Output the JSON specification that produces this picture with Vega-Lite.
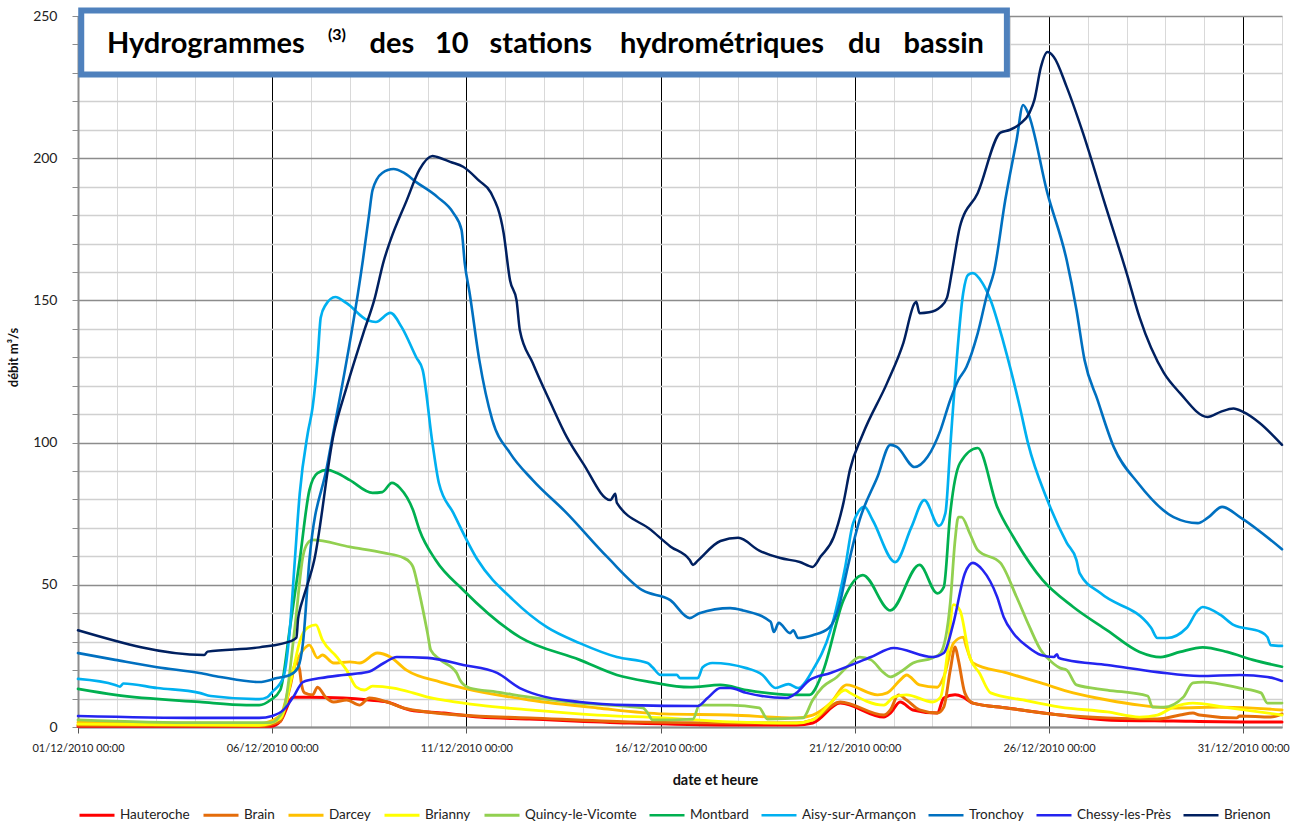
{
  "$schema": "https://vega.github.io/schema/vega-lite/v6.json",
  "autosize": {"type": "none"},
  "width": 1204,
  "height": 711,
  "padding": {"left": 78, "top": 16, "right": 20, "bottom": 96},
  "background": "white",
  "config": {
    "view": {"stroke": null},
    "font": "Lato",
    "axis": {"labelFont": "Lato", "titleFont": "Lato", "labelColor": "#222222", "titleColor": "#111111"},
    "legend": {"labelFont": "Lato"}
  },
  "resolve": {"axis": {"y": "independent"}},
  "layer": [
    {
      "data": {"values": [
        {"s":"Hauteroche","t":"2010-12-01 00:00","q":0.3},{"s":"Hauteroche","t":"2010-12-05 23:00","q":0.3},{"s":"Hauteroche","t":"2010-12-06 05:00","q":2},{"s":"Hauteroche","t":"2010-12-06 13:00","q":10.5},{"s":"Hauteroche","t":"2010-12-06 23:00","q":10.5},{"s":"Hauteroche","t":"2010-12-07 20:00","q":10.2},{"s":"Hauteroche","t":"2010-12-08 12:00","q":9.5},{"s":"Hauteroche","t":"2010-12-08 23:00","q":8.8},{"s":"Hauteroche","t":"2010-12-09 13:00","q":6},{"s":"Hauteroche","t":"2010-12-10 10:00","q":4.9},{"s":"Hauteroche","t":"2010-12-11 08:00","q":3.5},{"s":"Hauteroche","t":"2010-12-12 15:00","q":2.8},{"s":"Hauteroche","t":"2010-12-15 05:00","q":1.4},{"s":"Hauteroche","t":"2010-12-17 19:00","q":0.7},{"s":"Hauteroche","t":"2010-12-19 12:00","q":0.7},{"s":"Hauteroche","t":"2010-12-19 22:00","q":1.4},{"s":"Hauteroche","t":"2010-12-20 15:00","q":8.4},{"s":"Hauteroche","t":"2010-12-21 18:00","q":3.5},{"s":"Hauteroche","t":"2010-12-21 22:00","q":4.9},{"s":"Hauteroche","t":"2010-12-22 04:00","q":8.8},{"s":"Hauteroche","t":"2010-12-22 12:00","q":6},{"s":"Hauteroche","t":"2010-12-23 03:00","q":4.9},{"s":"Hauteroche","t":"2010-12-23 07:00","q":10.2},{"s":"Hauteroche","t":"2010-12-23 14:00","q":11.3},{"s":"Hauteroche","t":"2010-12-23 19:00","q":10.5},{"s":"Hauteroche","t":"2010-12-24 01:00","q":8.4},{"s":"Hauteroche","t":"2010-12-24 22:00","q":6.7},{"s":"Hauteroche","t":"2010-12-26 07:00","q":4.2},{"s":"Hauteroche","t":"2010-12-27 12:00","q":2.5},{"s":"Hauteroche","t":"2010-12-29 05:00","q":2.1},{"s":"Hauteroche","t":"2010-12-30 22:00","q":1.8},{"s":"Hauteroche","t":"2011-01-01 00:00","q":1.8},

        {"s":"Brain","t":"2010-12-01 00:00","q":0.6},{"s":"Brain","t":"2010-12-05 16:00","q":0.4},{"s":"Brain","t":"2010-12-06 05:00","q":2},{"s":"Brain","t":"2010-12-06 11:00","q":14},{"s":"Brain","t":"2010-12-06 15:00","q":23},{"s":"Brain","t":"2010-12-06 17:00","q":20},{"s":"Brain","t":"2010-12-06 18:00","q":15.5},{"s":"Brain","t":"2010-12-06 20:00","q":12},{"s":"Brain","t":"2010-12-07 01:00","q":11.3},{"s":"Brain","t":"2010-12-07 04:00","q":14},{"s":"Brain","t":"2010-12-07 09:00","q":10.5},{"s":"Brain","t":"2010-12-07 14:00","q":8.8},{"s":"Brain","t":"2010-12-07 22:00","q":9.5},{"s":"Brain","t":"2010-12-08 06:00","q":7.7},{"s":"Brain","t":"2010-12-08 12:00","q":10.2},{"s":"Brain","t":"2010-12-08 23:00","q":8.8},{"s":"Brain","t":"2010-12-09 09:00","q":6.7},{"s":"Brain","t":"2010-12-10 00:00","q":5.3},{"s":"Brain","t":"2010-12-10 20:00","q":4.2},{"s":"Brain","t":"2010-12-12 15:00","q":3.2},{"s":"Brain","t":"2010-12-15 05:00","q":1.8},{"s":"Brain","t":"2010-12-17 19:00","q":1.4},{"s":"Brain","t":"2010-12-19 12:00","q":1.4},{"s":"Brain","t":"2010-12-19 22:00","q":2.5},{"s":"Brain","t":"2010-12-20 15:00","q":8.8},{"s":"Brain","t":"2010-12-21 18:00","q":4.2},{"s":"Brain","t":"2010-12-21 22:00","q":6},{"s":"Brain","t":"2010-12-22 03:00","q":11.3},{"s":"Brain","t":"2010-12-22 08:00","q":9.5},{"s":"Brain","t":"2010-12-22 16:00","q":6},{"s":"Brain","t":"2010-12-23 03:00","q":4.9},{"s":"Brain","t":"2010-12-23 07:00","q":7},{"s":"Brain","t":"2010-12-23 11:00","q":20},{"s":"Brain","t":"2010-12-23 14:00","q":28.1},{"s":"Brain","t":"2010-12-23 16:00","q":23.6},{"s":"Brain","t":"2010-12-23 20:00","q":12},{"s":"Brain","t":"2010-12-24 01:00","q":8.4},{"s":"Brain","t":"2010-12-24 22:00","q":6.7},{"s":"Brain","t":"2010-12-26 07:00","q":4.2},{"s":"Brain","t":"2010-12-27 12:00","q":3.2},{"s":"Brain","t":"2010-12-28 19:00","q":2.8},{"s":"Brain","t":"2010-12-29 09:00","q":4.2},{"s":"Brain","t":"2010-12-29 17:00","q":4.9},{"s":"Brain","t":"2010-12-29 21:00","q":4.2},{"s":"Brain","t":"2010-12-30 20:00","q":3.2},{"s":"Brain","t":"2010-12-30 22:00","q":3.9},{"s":"Brain","t":"2010-12-31 17:00","q":3.5},{"s":"Brain","t":"2011-01-01 00:00","q":4.6},

        {"s":"Darcey","t":"2010-12-01 00:00","q":1.6},{"s":"Darcey","t":"2010-12-05 16:00","q":1.2},{"s":"Darcey","t":"2010-12-06 05:00","q":4},{"s":"Darcey","t":"2010-12-06 13:00","q":20},{"s":"Darcey","t":"2010-12-06 19:00","q":27},{"s":"Darcey","t":"2010-12-06 23:00","q":28.8},{"s":"Darcey","t":"2010-12-07 04:00","q":24.3},{"s":"Darcey","t":"2010-12-07 07:00","q":25.3},{"s":"Darcey","t":"2010-12-07 14:00","q":22.5},{"s":"Darcey","t":"2010-12-08 00:00","q":22.9},{"s":"Darcey","t":"2010-12-08 06:00","q":22.5},{"s":"Darcey","t":"2010-12-08 17:00","q":26},{"s":"Darcey","t":"2010-12-09 01:00","q":24.6},{"s":"Darcey","t":"2010-12-09 11:00","q":20},{"s":"Darcey","t":"2010-12-10 08:00","q":15.8},{"s":"Darcey","t":"2010-12-10 22:00","q":13.7},{"s":"Darcey","t":"2010-12-12 15:00","q":9.5},{"s":"Darcey","t":"2010-12-14 09:00","q":6.7},{"s":"Darcey","t":"2010-12-16 02:00","q":4.6},{"s":"Darcey","t":"2010-12-17 19:00","q":4.2},{"s":"Darcey","t":"2010-12-19 12:00","q":3.2},{"s":"Darcey","t":"2010-12-19 22:00","q":4.2},{"s":"Darcey","t":"2010-12-20 09:00","q":8.4},{"s":"Darcey","t":"2010-12-20 19:00","q":14.8},{"s":"Darcey","t":"2010-12-21 14:00","q":11.3},{"s":"Darcey","t":"2010-12-21 20:00","q":12},{"s":"Darcey","t":"2010-12-22 04:00","q":16.5},{"s":"Darcey","t":"2010-12-22 08:00","q":18.3},{"s":"Darcey","t":"2010-12-22 16:00","q":14.8},{"s":"Darcey","t":"2010-12-23 03:00","q":14},{"s":"Darcey","t":"2010-12-23 07:00","q":17.6},{"s":"Darcey","t":"2010-12-23 13:00","q":29.5},{"s":"Darcey","t":"2010-12-23 19:00","q":31.6},{"s":"Darcey","t":"2010-12-23 21:00","q":28.1},{"s":"Darcey","t":"2010-12-24 01:00","q":22.5},{"s":"Darcey","t":"2010-12-24 22:00","q":19},{"s":"Darcey","t":"2010-12-25 19:00","q":15.5},{"s":"Darcey","t":"2010-12-26 15:00","q":12},{"s":"Darcey","t":"2010-12-27 12:00","q":9.5},{"s":"Darcey","t":"2010-12-28 08:00","q":7.7},{"s":"Darcey","t":"2010-12-29 05:00","q":6.7},{"s":"Darcey","t":"2010-12-30 12:00","q":7},{"s":"Darcey","t":"2011-01-01 00:00","q":6},

        {"s":"Brianny","t":"2010-12-01 00:00","q":1},{"s":"Brianny","t":"2010-12-05 16:00","q":0.6},{"s":"Brianny","t":"2010-12-06 05:00","q":3},{"s":"Brianny","t":"2010-12-06 13:00","q":20},{"s":"Brianny","t":"2010-12-06 17:00","q":30},{"s":"Brianny","t":"2010-12-06 22:00","q":35},{"s":"Brianny","t":"2010-12-07 03:00","q":35.9},{"s":"Brianny","t":"2010-12-07 07:00","q":30.6},{"s":"Brianny","t":"2010-12-07 16:00","q":24.6},{"s":"Brianny","t":"2010-12-07 22:00","q":20},{"s":"Brianny","t":"2010-12-08 04:00","q":14},{"s":"Brianny","t":"2010-12-08 09:00","q":13},{"s":"Brianny","t":"2010-12-08 14:00","q":14.4},{"s":"Brianny","t":"2010-12-09 03:00","q":13.7},{"s":"Brianny","t":"2010-12-09 15:00","q":12},{"s":"Brianny","t":"2010-12-10 00:00","q":10.5},{"s":"Brianny","t":"2010-12-10 12:00","q":9.3},{"s":"Brianny","t":"2010-12-11 08:00","q":7.7},{"s":"Brianny","t":"2010-12-12 15:00","q":6},{"s":"Brianny","t":"2010-12-14 09:00","q":4.2},{"s":"Brianny","t":"2010-12-16 02:00","q":3.2},{"s":"Brianny","t":"2010-12-17 19:00","q":1.8},{"s":"Brianny","t":"2010-12-19 12:00","q":1.4},{"s":"Brianny","t":"2010-12-19 22:00","q":2.5},{"s":"Brianny","t":"2010-12-20 09:00","q":8.4},{"s":"Brianny","t":"2010-12-20 18:00","q":13},{"s":"Brianny","t":"2010-12-20 21:00","q":12},{"s":"Brianny","t":"2010-12-21 18:00","q":7.7},{"s":"Brianny","t":"2010-12-22 00:00","q":10.5},{"s":"Brianny","t":"2010-12-22 08:00","q":11.3},{"s":"Brianny","t":"2010-12-23 00:00","q":8.8},{"s":"Brianny","t":"2010-12-23 05:00","q":10.5},{"s":"Brianny","t":"2010-12-23 09:00","q":24.6},{"s":"Brianny","t":"2010-12-23 13:00","q":43},{"s":"Brianny","t":"2010-12-23 17:00","q":41},{"s":"Brianny","t":"2010-12-23 23:00","q":24.6},{"s":"Brianny","t":"2010-12-24 05:00","q":19},{"s":"Brianny","t":"2010-12-24 12:00","q":12},{"s":"Brianny","t":"2010-12-25 08:00","q":9.5},{"s":"Brianny","t":"2010-12-26 07:00","q":7},{"s":"Brianny","t":"2010-12-27 12:00","q":5.3},{"s":"Brianny","t":"2010-12-28 08:00","q":3.5},{"s":"Brianny","t":"2010-12-28 19:00","q":4.2},{"s":"Brianny","t":"2010-12-29 05:00","q":7},{"s":"Brianny","t":"2010-12-29 17:00","q":8.4},{"s":"Brianny","t":"2010-12-30 12:00","q":7},{"s":"Brianny","t":"2011-01-01 00:00","q":4.2},

        {"s":"Quincy-le-Vicomte","t":"2010-12-01 00:00","q":2.5},{"s":"Quincy-le-Vicomte","t":"2010-12-04 03:00","q":1.5},{"s":"Quincy-le-Vicomte","t":"2010-12-05 23:00","q":1.5},{"s":"Quincy-le-Vicomte","t":"2010-12-06 07:00","q":6},{"s":"Quincy-le-Vicomte","t":"2010-12-06 14:00","q":35},{"s":"Quincy-le-Vicomte","t":"2010-12-06 19:00","q":60},{"s":"Quincy-le-Vicomte","t":"2010-12-06 22:00","q":64.7},{"s":"Quincy-le-Vicomte","t":"2010-12-07 01:00","q":65.8},{"s":"Quincy-le-Vicomte","t":"2010-12-08 00:00","q":63.3},{"s":"Quincy-le-Vicomte","t":"2010-12-08 21:00","q":61.2},{"s":"Quincy-le-Vicomte","t":"2010-12-09 09:00","q":59.5},{"s":"Quincy-le-Vicomte","t":"2010-12-09 13:00","q":58},{"s":"Quincy-le-Vicomte","t":"2010-12-09 15:00","q":56.3},{"s":"Quincy-le-Vicomte","t":"2010-12-09 19:00","q":47},{"s":"Quincy-le-Vicomte","t":"2010-12-10 00:00","q":33},{"s":"Quincy-le-Vicomte","t":"2010-12-10 02:00","q":27},{"s":"Quincy-le-Vicomte","t":"2010-12-10 08:00","q":23.6},{"s":"Quincy-le-Vicomte","t":"2010-12-10 18:00","q":19},{"s":"Quincy-le-Vicomte","t":"2010-12-10 20:00","q":16.5},{"s":"Quincy-le-Vicomte","t":"2010-12-11 02:00","q":13.7},{"s":"Quincy-le-Vicomte","t":"2010-12-11 19:00","q":12.3},{"s":"Quincy-le-Vicomte","t":"2010-12-12 15:00","q":10.5},{"s":"Quincy-le-Vicomte","t":"2010-12-13 22:00","q":8.4},{"s":"Quincy-le-Vicomte","t":"2010-12-15 13:00","q":6.7},{"s":"Quincy-le-Vicomte","t":"2010-12-15 16:00","q":5},{"s":"Quincy-le-Vicomte","t":"2010-12-15 19:00","q":2.5},{"s":"Quincy-le-Vicomte","t":"2010-12-16 20:00","q":2.8},{"s":"Quincy-le-Vicomte","t":"2010-12-17 00:00","q":7.7},{"s":"Quincy-le-Vicomte","t":"2010-12-17 19:00","q":7.7},{"s":"Quincy-le-Vicomte","t":"2010-12-18 13:00","q":6.7},{"s":"Quincy-le-Vicomte","t":"2010-12-18 18:00","q":2.8},{"s":"Quincy-le-Vicomte","t":"2010-12-19 16:00","q":3.2},{"s":"Quincy-le-Vicomte","t":"2010-12-19 22:00","q":9.5},{"s":"Quincy-le-Vicomte","t":"2010-12-20 04:00","q":14},{"s":"Quincy-le-Vicomte","t":"2010-12-20 13:00","q":17.6},{"s":"Quincy-le-Vicomte","t":"2010-12-20 19:00","q":21},{"s":"Quincy-le-Vicomte","t":"2010-12-21 03:00","q":24.6},{"s":"Quincy-le-Vicomte","t":"2010-12-21 10:00","q":23.6},{"s":"Quincy-le-Vicomte","t":"2010-12-21 18:00","q":19},{"s":"Quincy-le-Vicomte","t":"2010-12-21 22:00","q":17.6},{"s":"Quincy-le-Vicomte","t":"2010-12-22 04:00","q":19.3},{"s":"Quincy-le-Vicomte","t":"2010-12-22 12:00","q":22.5},{"s":"Quincy-le-Vicomte","t":"2010-12-23 00:00","q":24.3},{"s":"Quincy-le-Vicomte","t":"2010-12-23 05:00","q":26},{"s":"Quincy-le-Vicomte","t":"2010-12-23 11:00","q":43.6},{"s":"Quincy-le-Vicomte","t":"2010-12-23 14:00","q":65.8},{"s":"Quincy-le-Vicomte","t":"2010-12-23 16:00","q":73.8},{"s":"Quincy-le-Vicomte","t":"2010-12-23 18:00","q":73.8},{"s":"Quincy-le-Vicomte","t":"2010-12-23 23:00","q":68.2},{"s":"Quincy-le-Vicomte","t":"2010-12-24 04:00","q":62.2},{"s":"Quincy-le-Vicomte","t":"2010-12-24 18:00","q":57.7},{"s":"Quincy-le-Vicomte","t":"2010-12-25 04:00","q":45.7},{"s":"Quincy-le-Vicomte","t":"2010-12-25 12:00","q":35.2},{"s":"Quincy-le-Vicomte","t":"2010-12-25 19:00","q":27},{"s":"Quincy-le-Vicomte","t":"2010-12-25 23:00","q":24.3},{"s":"Quincy-le-Vicomte","t":"2010-12-26 07:00","q":20.7},{"s":"Quincy-le-Vicomte","t":"2010-12-26 11:00","q":20},{"s":"Quincy-le-Vicomte","t":"2010-12-26 17:00","q":14.8},{"s":"Quincy-le-Vicomte","t":"2010-12-27 12:00","q":13},{"s":"Quincy-le-Vicomte","t":"2010-12-28 13:00","q":10.9},{"s":"Quincy-le-Vicomte","t":"2010-12-28 16:00","q":7},{"s":"Quincy-le-Vicomte","t":"2010-12-28 23:00","q":7},{"s":"Quincy-le-Vicomte","t":"2010-12-29 11:00","q":10.5},{"s":"Quincy-le-Vicomte","t":"2010-12-29 17:00","q":15.5},{"s":"Quincy-le-Vicomte","t":"2010-12-29 23:00","q":15.8},{"s":"Quincy-le-Vicomte","t":"2010-12-30 22:00","q":13.7},{"s":"Quincy-le-Vicomte","t":"2010-12-31 11:00","q":12},{"s":"Quincy-le-Vicomte","t":"2010-12-31 15:00","q":8.4},{"s":"Quincy-le-Vicomte","t":"2011-01-01 00:00","q":8.4},

        {"s":"Montbard","t":"2010-12-01 00:00","q":13.4},{"s":"Montbard","t":"2010-12-01 23:00","q":11.3},{"s":"Montbard","t":"2010-12-04 03:00","q":8.8},{"s":"Montbard","t":"2010-12-05 08:00","q":7.7},{"s":"Montbard","t":"2010-12-05 16:00","q":7.7},{"s":"Montbard","t":"2010-12-05 23:00","q":9.5},{"s":"Montbard","t":"2010-12-06 05:00","q":13},{"s":"Montbard","t":"2010-12-06 11:00","q":35},{"s":"Montbard","t":"2010-12-06 17:00","q":58.7},{"s":"Montbard","t":"2010-12-06 23:00","q":83.3},{"s":"Montbard","t":"2010-12-07 04:00","q":89.3},{"s":"Montbard","t":"2010-12-07 10:00","q":90.4},{"s":"Montbard","t":"2010-12-07 16:00","q":89.3},{"s":"Montbard","t":"2010-12-08 00:00","q":86.8},{"s":"Montbard","t":"2010-12-08 14:00","q":82.3},{"s":"Montbard","t":"2010-12-08 20:00","q":82.6},{"s":"Montbard","t":"2010-12-09 02:00","q":85.8},{"s":"Montbard","t":"2010-12-09 07:00","q":84},{"s":"Montbard","t":"2010-12-09 15:00","q":76.3},{"s":"Montbard","t":"2010-12-09 19:00","q":69.3},{"s":"Montbard","t":"2010-12-10 05:00","q":58.7},{"s":"Montbard","t":"2010-12-10 22:00","q":48.2},{"s":"Montbard","t":"2010-12-12 09:00","q":31.6},{"s":"Montbard","t":"2010-12-13 22:00","q":23.6},{"s":"Montbard","t":"2010-12-14 21:00","q":18.3},{"s":"Montbard","t":"2010-12-15 18:00","q":15.8},{"s":"Montbard","t":"2010-12-16 18:00","q":14},{"s":"Montbard","t":"2010-12-17 13:00","q":14.8},{"s":"Montbard","t":"2010-12-18 05:00","q":13},{"s":"Montbard","t":"2010-12-19 08:00","q":11.3},{"s":"Montbard","t":"2010-12-19 20:00","q":11.3},{"s":"Montbard","t":"2010-12-20 04:00","q":19},{"s":"Montbard","t":"2010-12-20 17:00","q":44.6},{"s":"Montbard","t":"2010-12-21 05:00","q":53.4},{"s":"Montbard","t":"2010-12-21 22:00","q":41},{"s":"Montbard","t":"2010-12-22 16:00","q":57},{"s":"Montbard","t":"2010-12-23 03:00","q":47},{"s":"Montbard","t":"2010-12-23 07:00","q":49.2},{"s":"Montbard","t":"2010-12-23 11:00","q":75.2},{"s":"Montbard","t":"2010-12-23 17:00","q":92.8},{"s":"Montbard","t":"2010-12-24 04:00","q":98.1},{"s":"Montbard","t":"2010-12-24 16:00","q":77.4},{"s":"Montbard","t":"2010-12-25 02:00","q":66.8},{"s":"Montbard","t":"2010-12-25 20:00","q":51.7},{"s":"Montbard","t":"2010-12-26 15:00","q":42.2},{"s":"Montbard","t":"2010-12-27 12:00","q":34},{"s":"Montbard","t":"2010-12-28 08:00","q":26.4},{"s":"Montbard","t":"2010-12-28 21:00","q":24.6},{"s":"Montbard","t":"2010-12-29 09:00","q":26.4},{"s":"Montbard","t":"2010-12-29 23:00","q":28},{"s":"Montbard","t":"2010-12-30 14:00","q":26.4},{"s":"Montbard","t":"2010-12-31 06:00","q":23.6},{"s":"Montbard","t":"2011-01-01 00:00","q":21.2},

        {"s":"Aisy-sur-Armançon","t":"2010-12-01 00:00","q":16.9},{"s":"Aisy-sur-Armançon","t":"2010-12-01 23:00","q":14.8},{"s":"Aisy-sur-Armançon","t":"2010-12-02 02:00","q":14.2},{"s":"Aisy-sur-Armançon","t":"2010-12-02 04:00","q":15.3},{"s":"Aisy-sur-Armançon","t":"2010-12-03 01:00","q":13.7},{"s":"Aisy-sur-Armançon","t":"2010-12-04 03:00","q":12},{"s":"Aisy-sur-Armançon","t":"2010-12-04 10:00","q":10.9},{"s":"Aisy-sur-Armançon","t":"2010-12-05 16:00","q":9.8},{"s":"Aisy-sur-Armançon","t":"2010-12-05 21:00","q":10.5},{"s":"Aisy-sur-Armançon","t":"2010-12-06 00:00","q":12.3},{"s":"Aisy-sur-Armançon","t":"2010-12-06 07:00","q":17.6},{"s":"Aisy-sur-Armançon","t":"2010-12-06 11:00","q":35},{"s":"Aisy-sur-Armançon","t":"2010-12-06 14:00","q":58.7},{"s":"Aisy-sur-Armançon","t":"2010-12-06 17:00","q":82},{"s":"Aisy-sur-Armançon","t":"2010-12-06 22:00","q":103.4},{"s":"Aisy-sur-Armançon","t":"2010-12-07 01:00","q":112.5},{"s":"Aisy-sur-Armançon","t":"2010-12-07 04:00","q":129},{"s":"Aisy-sur-Armançon","t":"2010-12-07 06:00","q":144},{"s":"Aisy-sur-Armançon","t":"2010-12-07 09:00","q":148.4},{"s":"Aisy-sur-Armançon","t":"2010-12-07 15:00","q":151.2},{"s":"Aisy-sur-Armançon","t":"2010-12-07 22:00","q":149},{"s":"Aisy-sur-Armançon","t":"2010-12-08 11:00","q":143},{"s":"Aisy-sur-Armançon","t":"2010-12-08 16:00","q":142.4},{"s":"Aisy-sur-Armançon","t":"2010-12-09 01:00","q":145.6},{"s":"Aisy-sur-Armançon","t":"2010-12-09 08:00","q":140.6},{"s":"Aisy-sur-Armançon","t":"2010-12-09 17:00","q":130},{"s":"Aisy-sur-Armançon","t":"2010-12-09 21:00","q":125.5},{"s":"Aisy-sur-Armançon","t":"2010-12-10 03:00","q":99.9},{"s":"Aisy-sur-Armançon","t":"2010-12-10 07:00","q":85.8},{"s":"Aisy-sur-Armançon","t":"2010-12-10 16:00","q":75.2},{"s":"Aisy-sur-Armançon","t":"2010-12-11 07:00","q":58.7},{"s":"Aisy-sur-Armançon","t":"2010-12-12 05:00","q":44.6},{"s":"Aisy-sur-Armançon","t":"2010-12-13 02:00","q":35},{"s":"Aisy-sur-Armançon","t":"2010-12-13 22:00","q":29.5},{"s":"Aisy-sur-Armançon","t":"2010-12-14 21:00","q":24.6},{"s":"Aisy-sur-Armançon","t":"2010-12-15 16:00","q":22.5},{"s":"Aisy-sur-Armançon","t":"2010-12-15 19:00","q":21},{"s":"Aisy-sur-Armançon","t":"2010-12-16 00:00","q":18.3},{"s":"Aisy-sur-Armançon","t":"2010-12-16 10:00","q":18.3},{"s":"Aisy-sur-Armançon","t":"2010-12-16 12:00","q":17.2},{"s":"Aisy-sur-Armançon","t":"2010-12-16 23:00","q":17.2},{"s":"Aisy-sur-Armançon","t":"2010-12-17 02:00","q":21},{"s":"Aisy-sur-Armançon","t":"2010-12-17 08:00","q":22.5},{"s":"Aisy-sur-Armançon","t":"2010-12-18 05:00","q":20.7},{"s":"Aisy-sur-Armançon","t":"2010-12-18 15:00","q":18.3},{"s":"Aisy-sur-Armançon","t":"2010-12-18 23:00","q":13.7},{"s":"Aisy-sur-Armançon","t":"2010-12-19 07:00","q":15.1},{"s":"Aisy-sur-Armançon","t":"2010-12-19 13:00","q":13.7},{"s":"Aisy-sur-Armançon","t":"2010-12-19 22:00","q":20},{"s":"Aisy-sur-Armançon","t":"2010-12-20 09:00","q":34},{"s":"Aisy-sur-Armançon","t":"2010-12-20 18:00","q":56},{"s":"Aisy-sur-Armançon","t":"2010-12-20 23:00","q":71.7},{"s":"Aisy-sur-Armançon","t":"2010-12-21 06:00","q":77.4},{"s":"Aisy-sur-Armançon","t":"2010-12-21 11:00","q":72.8},{"s":"Aisy-sur-Armançon","t":"2010-12-22 01:00","q":58},{"s":"Aisy-sur-Armançon","t":"2010-12-22 11:00","q":70.3},{"s":"Aisy-sur-Armançon","t":"2010-12-22 19:00","q":79.8},{"s":"Aisy-sur-Armançon","t":"2010-12-23 04:00","q":70.7},{"s":"Aisy-sur-Armançon","t":"2010-12-23 08:00","q":75.2},{"s":"Aisy-sur-Armançon","t":"2010-12-23 11:00","q":98.5},{"s":"Aisy-sur-Armançon","t":"2010-12-23 14:00","q":122},{"s":"Aisy-sur-Armançon","t":"2010-12-23 19:00","q":152.6},{"s":"Aisy-sur-Armançon","t":"2010-12-23 22:00","q":159},{"s":"Aisy-sur-Armançon","t":"2010-12-24 01:00","q":159.6},{"s":"Aisy-sur-Armançon","t":"2010-12-24 07:00","q":156},{"s":"Aisy-sur-Armançon","t":"2010-12-24 12:00","q":150},{"s":"Aisy-sur-Armançon","t":"2010-12-24 20:00","q":135},{"s":"Aisy-sur-Armançon","t":"2010-12-25 06:00","q":112.5},{"s":"Aisy-sur-Armançon","t":"2010-12-25 11:00","q":99.9},{"s":"Aisy-sur-Armançon","t":"2010-12-25 23:00","q":79.8},{"s":"Aisy-sur-Armançon","t":"2010-12-26 11:00","q":64.7},{"s":"Aisy-sur-Armançon","t":"2010-12-26 17:00","q":58.7},{"s":"Aisy-sur-Armançon","t":"2010-12-26 19:00","q":54},{"s":"Aisy-sur-Armançon","t":"2010-12-27 08:00","q":47},{"s":"Aisy-sur-Armançon","t":"2010-12-28 15:00","q":35},{"s":"Aisy-sur-Armançon","t":"2010-12-28 19:00","q":31.3},{"s":"Aisy-sur-Armançon","t":"2010-12-29 01:00","q":31.3},{"s":"Aisy-sur-Armançon","t":"2010-12-29 13:00","q":34.8},{"s":"Aisy-sur-Armançon","t":"2010-12-29 20:00","q":41},{"s":"Aisy-sur-Armançon","t":"2010-12-29 23:00","q":42.2},{"s":"Aisy-sur-Armançon","t":"2010-12-30 10:00","q":39.4},{"s":"Aisy-sur-Armançon","t":"2010-12-30 18:00","q":35.9},{"s":"Aisy-sur-Armançon","t":"2010-12-31 11:00","q":33.4},{"s":"Aisy-sur-Armançon","t":"2010-12-31 15:00","q":31.6},{"s":"Aisy-sur-Armançon","t":"2010-12-31 17:00","q":28.8},{"s":"Aisy-sur-Armançon","t":"2011-01-01 00:00","q":28.5},

        {"s":"Tronchoy","t":"2010-12-01 00:00","q":26},{"s":"Tronchoy","t":"2010-12-01 23:00","q":23.6},{"s":"Tronchoy","t":"2010-12-03 01:00","q":21},{"s":"Tronchoy","t":"2010-12-04 03:00","q":19},{"s":"Tronchoy","t":"2010-12-04 16:00","q":17.6},{"s":"Tronchoy","t":"2010-12-05 16:00","q":15.8},{"s":"Tronchoy","t":"2010-12-06 03:00","q":17.2},{"s":"Tronchoy","t":"2010-12-06 11:00","q":18.3},{"s":"Tronchoy","t":"2010-12-06 16:00","q":21},{"s":"Tronchoy","t":"2010-12-06 19:00","q":29.5},{"s":"Tronchoy","t":"2010-12-06 23:00","q":58.7},{"s":"Tronchoy","t":"2010-12-07 10:00","q":92},{"s":"Tronchoy","t":"2010-12-08 08:00","q":164},{"s":"Tronchoy","t":"2010-12-08 12:00","q":180.7},{"s":"Tronchoy","t":"2010-12-08 14:00","q":188.8},{"s":"Tronchoy","t":"2010-12-08 20:00","q":194.8},{"s":"Tronchoy","t":"2010-12-09 03:00","q":196.2},{"s":"Tronchoy","t":"2010-12-09 09:00","q":195},{"s":"Tronchoy","t":"2010-12-09 17:00","q":191.6},{"s":"Tronchoy","t":"2010-12-10 06:00","q":186.4},{"s":"Tronchoy","t":"2010-12-10 16:00","q":180.7},{"s":"Tronchoy","t":"2010-12-10 21:00","q":174.8},{"s":"Tronchoy","t":"2010-12-10 23:00","q":163},{"s":"Tronchoy","t":"2010-12-11 02:00","q":152.6},{"s":"Tronchoy","t":"2010-12-11 08:00","q":129},{"s":"Tronchoy","t":"2010-12-11 16:00","q":108},{"s":"Tronchoy","t":"2010-12-12 03:00","q":96.3},{"s":"Tronchoy","t":"2010-12-12 17:00","q":86.8},{"s":"Tronchoy","t":"2010-12-13 14:00","q":75.2},{"s":"Tronchoy","t":"2010-12-14 15:00","q":59.8},{"s":"Tronchoy","t":"2010-12-15 13:00","q":48},{"s":"Tronchoy","t":"2010-12-16 06:00","q":44.6},{"s":"Tronchoy","t":"2010-12-16 18:00","q":38.3},{"s":"Tronchoy","t":"2010-12-17 00:00","q":40},{"s":"Tronchoy","t":"2010-12-17 19:00","q":41.8},{"s":"Tronchoy","t":"2010-12-18 03:00","q":41},{"s":"Tronchoy","t":"2010-12-18 20:00","q":37},{"s":"Tronchoy","t":"2010-12-18 22:00","q":33.4},{"s":"Tronchoy","t":"2010-12-19 01:00","q":36.6},{"s":"Tronchoy","t":"2010-12-19 08:00","q":33},{"s":"Tronchoy","t":"2010-12-19 10:00","q":34},{"s":"Tronchoy","t":"2010-12-19 13:00","q":31.3},{"s":"Tronchoy","t":"2010-12-19 22:00","q":32.3},{"s":"Tronchoy","t":"2010-12-20 08:00","q":34.8},{"s":"Tronchoy","t":"2010-12-20 15:00","q":44},{"s":"Tronchoy","t":"2010-12-20 18:00","q":52},{"s":"Tronchoy","t":"2010-12-21 03:00","q":72.8},{"s":"Tronchoy","t":"2010-12-21 14:00","q":87.9},{"s":"Tronchoy","t":"2010-12-21 22:00","q":99.2},{"s":"Tronchoy","t":"2010-12-22 02:00","q":98.5},{"s":"Tronchoy","t":"2010-12-22 13:00","q":91.4},{"s":"Tronchoy","t":"2010-12-22 21:00","q":95},{"s":"Tronchoy","t":"2010-12-23 05:00","q":104.4},{"s":"Tronchoy","t":"2010-12-23 11:00","q":115},{"s":"Tronchoy","t":"2010-12-23 16:00","q":122},{"s":"Tronchoy","t":"2010-12-23 21:00","q":126.6},{"s":"Tronchoy","t":"2010-12-24 04:00","q":138.5},{"s":"Tronchoy","t":"2010-12-24 10:00","q":152.6},{"s":"Tronchoy","t":"2010-12-24 14:00","q":160},{"s":"Tronchoy","t":"2010-12-24 21:00","q":185.3},{"s":"Tronchoy","t":"2010-12-25 04:00","q":206.4},{"s":"Tronchoy","t":"2010-12-25 08:00","q":218.7},{"s":"Tronchoy","t":"2010-12-25 11:00","q":216},{"s":"Tronchoy","t":"2010-12-25 23:00","q":187.8},{"s":"Tronchoy","t":"2010-12-26 11:00","q":164},{"s":"Tronchoy","t":"2010-12-26 17:00","q":146.6},{"s":"Tronchoy","t":"2010-12-26 22:00","q":129},{"s":"Tronchoy","t":"2010-12-27 06:00","q":115},{"s":"Tronchoy","t":"2010-12-27 16:00","q":98.5},{"s":"Tronchoy","t":"2010-12-28 07:00","q":85.8},{"s":"Tronchoy","t":"2010-12-29 05:00","q":73.8},{"s":"Tronchoy","t":"2010-12-29 20:00","q":71.7},{"s":"Tronchoy","t":"2010-12-30 02:00","q":73.5},{"s":"Tronchoy","t":"2010-12-30 11:00","q":77.4},{"s":"Tronchoy","t":"2010-12-30 22:00","q":73.8},{"s":"Tronchoy","t":"2011-01-01 00:00","q":62.5},

        {"s":"Chessy-les-Près","t":"2010-12-01 00:00","q":3.9},{"s":"Chessy-les-Près","t":"2010-12-04 03:00","q":3.2},{"s":"Chessy-les-Près","t":"2010-12-05 16:00","q":3.2},{"s":"Chessy-les-Près","t":"2010-12-06 00:00","q":3.9},{"s":"Chessy-les-Près","t":"2010-12-06 07:00","q":6},{"s":"Chessy-les-Près","t":"2010-12-06 13:00","q":10.5},{"s":"Chessy-les-Près","t":"2010-12-06 19:00","q":15.8},{"s":"Chessy-les-Près","t":"2010-12-07 06:00","q":17.2},{"s":"Chessy-les-Près","t":"2010-12-07 20:00","q":18.3},{"s":"Chessy-les-Près","t":"2010-12-08 11:00","q":19.3},{"s":"Chessy-les-Près","t":"2010-12-08 21:00","q":22.5},{"s":"Chessy-les-Près","t":"2010-12-09 05:00","q":24.6},{"s":"Chessy-les-Près","t":"2010-12-10 00:00","q":24.3},{"s":"Chessy-les-Près","t":"2010-12-10 22:00","q":21.8},{"s":"Chessy-les-Près","t":"2010-12-11 19:00","q":19},{"s":"Chessy-les-Près","t":"2010-12-12 09:00","q":13.7},{"s":"Chessy-les-Près","t":"2010-12-12 20:00","q":11.3},{"s":"Chessy-les-Près","t":"2010-12-13 22:00","q":8.8},{"s":"Chessy-les-Près","t":"2010-12-15 05:00","q":7.7},{"s":"Chessy-les-Près","t":"2010-12-16 23:00","q":7.4},{"s":"Chessy-les-Près","t":"2010-12-17 05:00","q":10.2},{"s":"Chessy-les-Près","t":"2010-12-17 13:00","q":13.7},{"s":"Chessy-les-Près","t":"2010-12-17 19:00","q":13.7},{"s":"Chessy-les-Près","t":"2010-12-18 05:00","q":12},{"s":"Chessy-les-Près","t":"2010-12-19 06:00","q":10.2},{"s":"Chessy-les-Près","t":"2010-12-19 12:00","q":12},{"s":"Chessy-les-Près","t":"2010-12-19 20:00","q":16.5},{"s":"Chessy-les-Près","t":"2010-12-20 09:00","q":19},{"s":"Chessy-les-Près","t":"2010-12-21 10:00","q":24.6},{"s":"Chessy-les-Près","t":"2010-12-22 00:00","q":27.8},{"s":"Chessy-les-Près","t":"2010-12-23 00:00","q":24.6},{"s":"Chessy-les-Près","t":"2010-12-23 07:00","q":26},{"s":"Chessy-les-Près","t":"2010-12-23 13:00","q":36.6},{"s":"Chessy-les-Près","t":"2010-12-23 20:00","q":54},{"s":"Chessy-les-Près","t":"2010-12-24 01:00","q":57.7},{"s":"Chessy-les-Près","t":"2010-12-24 07:00","q":55.2},{"s":"Chessy-les-Près","t":"2010-12-24 16:00","q":45.7},{"s":"Chessy-les-Près","t":"2010-12-24 20:00","q":38.7},{"s":"Chessy-les-Près","t":"2010-12-25 02:00","q":33},{"s":"Chessy-les-Près","t":"2010-12-25 11:00","q":28.1},{"s":"Chessy-les-Près","t":"2010-12-25 19:00","q":25.3},{"s":"Chessy-les-Près","t":"2010-12-26 03:00","q":24.6},{"s":"Chessy-les-Près","t":"2010-12-26 05:00","q":25.6},{"s":"Chessy-les-Près","t":"2010-12-26 06:00","q":24.3},{"s":"Chessy-les-Près","t":"2010-12-26 11:00","q":23.6},{"s":"Chessy-les-Près","t":"2010-12-27 12:00","q":21.8},{"s":"Chessy-les-Près","t":"2010-12-28 19:00","q":19.3},{"s":"Chessy-les-Près","t":"2010-12-29 21:00","q":17.9},{"s":"Chessy-les-Près","t":"2010-12-30 22:00","q":18.3},{"s":"Chessy-les-Près","t":"2010-12-31 15:00","q":17.6},{"s":"Chessy-les-Près","t":"2011-01-01 00:00","q":16.2},

        {"s":"Brienon","t":"2010-12-01 00:00","q":34},{"s":"Brienon","t":"2010-12-04 06:00","q":25.3},{"s":"Brienon","t":"2010-12-04 08:00","q":26.5},{"s":"Brienon","t":"2010-12-05 16:00","q":28},{"s":"Brienon","t":"2010-12-06 12:00","q":30.3},{"s":"Brienon","t":"2010-12-06 15:00","q":31.5},{"s":"Brienon","t":"2010-12-06 16:00","q":38},{"s":"Brienon","t":"2010-12-06 17:00","q":41},{"s":"Brienon","t":"2010-12-06 19:00","q":45},{"s":"Brienon","t":"2010-12-07 02:00","q":58.7},{"s":"Brienon","t":"2010-12-07 14:00","q":103},{"s":"Brienon","t":"2010-12-07 22:00","q":119.5},{"s":"Brienon","t":"2010-12-08 09:00","q":139.6},{"s":"Brienon","t":"2010-12-08 15:00","q":150},{"s":"Brienon","t":"2010-12-08 21:00","q":164},{"s":"Brienon","t":"2010-12-09 01:00","q":171},{"s":"Brienon","t":"2010-12-09 11:00","q":185},{"s":"Brienon","t":"2010-12-09 19:00","q":196},{"s":"Brienon","t":"2010-12-10 03:00","q":200.8},{"s":"Brienon","t":"2010-12-10 06:00","q":200.4},{"s":"Brienon","t":"2010-12-10 14:00","q":198.7},{"s":"Brienon","t":"2010-12-10 22:00","q":197},{"s":"Brienon","t":"2010-12-11 08:00","q":192},{"s":"Brienon","t":"2010-12-11 15:00","q":188},{"s":"Brienon","t":"2010-12-11 23:00","q":173.7},{"s":"Brienon","t":"2010-12-12 03:00","q":157},{"s":"Brienon","t":"2010-12-12 07:00","q":150},{"s":"Brienon","t":"2010-12-12 09:00","q":139.6},{"s":"Brienon","t":"2010-12-12 17:00","q":128},{"s":"Brienon","t":"2010-12-13 04:00","q":114},{"s":"Brienon","t":"2010-12-13 14:00","q":102},{"s":"Brienon","t":"2010-12-14 00:00","q":92.8},{"s":"Brienon","t":"2010-12-14 17:00","q":79.8},{"s":"Brienon","t":"2010-12-14 20:00","q":82},{"s":"Brienon","t":"2010-12-14 21:00","q":78.8},{"s":"Brienon","t":"2010-12-15 18:00","q":69.3},{"s":"Brienon","t":"2010-12-16 06:00","q":63.5},{"s":"Brienon","t":"2010-12-16 18:00","q":58.7},{"s":"Brienon","t":"2010-12-16 20:00","q":57},{"s":"Brienon","t":"2010-12-16 23:00","q":58.5},{"s":"Brienon","t":"2010-12-17 13:00","q":65.4},{"s":"Brienon","t":"2010-12-18 00:00","q":66.5},{"s":"Brienon","t":"2010-12-18 13:00","q":62},{"s":"Brienon","t":"2010-12-19 02:00","q":59.4},{"s":"Brienon","t":"2010-12-19 14:00","q":58},{"s":"Brienon","t":"2010-12-19 22:00","q":56.3},{"s":"Brienon","t":"2010-12-20 03:00","q":60},{"s":"Brienon","t":"2010-12-20 11:00","q":66.8},{"s":"Brienon","t":"2010-12-20 17:00","q":78.8},{"s":"Brienon","t":"2010-12-20 21:00","q":90.4},{"s":"Brienon","t":"2010-12-21 05:00","q":103},{"s":"Brienon","t":"2010-12-21 20:00","q":121},{"s":"Brienon","t":"2010-12-22 06:00","q":135},{"s":"Brienon","t":"2010-12-22 13:00","q":149},{"s":"Brienon","t":"2010-12-22 14:00","q":149.5},{"s":"Brienon","t":"2010-12-22 16:00","q":145.5},{"s":"Brienon","t":"2010-12-22 22:00","q":145.8},{"s":"Brienon","t":"2010-12-23 05:00","q":147.7},{"s":"Brienon","t":"2010-12-23 09:00","q":151},{"s":"Brienon","t":"2010-12-23 12:00","q":160},{"s":"Brienon","t":"2010-12-23 17:00","q":176},{"s":"Brienon","t":"2010-12-24 04:00","q":187.8},{"s":"Brienon","t":"2010-12-24 18:00","q":209},{"s":"Brienon","t":"2010-12-25 00:00","q":210},{"s":"Brienon","t":"2010-12-25 06:00","q":212},{"s":"Brienon","t":"2010-12-25 12:00","q":216},{"s":"Brienon","t":"2010-12-25 15:00","q":220.5},{"s":"Brienon","t":"2010-12-25 19:00","q":232},{"s":"Brienon","t":"2010-12-25 23:00","q":237.3},{"s":"Brienon","t":"2010-12-26 03:00","q":235.6},{"s":"Brienon","t":"2010-12-26 11:00","q":225},{"s":"Brienon","t":"2010-12-26 21:00","q":208.9},{"s":"Brienon","t":"2010-12-27 10:00","q":185},{"s":"Brienon","t":"2010-12-28 00:00","q":159.6},{"s":"Brienon","t":"2010-12-28 08:00","q":144},{"s":"Brienon","t":"2010-12-28 23:00","q":124.5},{"s":"Brienon","t":"2010-12-29 09:00","q":117.4},{"s":"Brienon","t":"2010-12-30 02:00","q":109},{"s":"Brienon","t":"2010-12-30 10:00","q":110.8},{"s":"Brienon","t":"2010-12-30 18:00","q":112},{"s":"Brienon","t":"2010-12-31 00:00","q":110.8},{"s":"Brienon","t":"2010-12-31 10:00","q":107},{"s":"Brienon","t":"2011-01-01 00:00","q":99.2}
      ]},
      "mark": {"type": "line", "interpolate": "monotone", "strokeJoin": "round", "strokeCap": "round"},
      "encoding": {
        "x": {
          "field": "t", "type": "temporal",
          "scale": {"domain": [{"year": 2010, "month": 12, "date": 1, "hours": 0}, {"year": 2011, "month": 1, "date": 1, "hours": 0}], "nice": false},
          "axis": {
            "title": "date et heure",
            "titleFontSize": 14.5, "titleFontWeight": "bold", "titleX": 637, "titlePadding": 20,
            "tickCount": {"interval": "day", "step": 1},
            "grid": true,
            "gridColor": {"condition": {"test": "date(datum.value) % 5 == 1 && month(datum.value) == 11", "value": "#000000"}, "value": "#d9d9d9"},
            "gridWidth": 1,
            "ticks": true, "tickSize": 6,
            "tickColor": {"condition": {"test": "date(datum.value) % 5 == 1 && month(datum.value) == 11", "value": "#555555"}, "value": "transparent"},
            "domainColor": "#8c8c8c", "domainWidth": 2,
            "labelExpr": "date(datum.value) % 5 == 1 && month(datum.value) == 11 ? timeFormat(datum.value, '%d/%m/%Y %H:%M') : ''",
            "labelFontSize": 11, "labelPadding": 9, "labelOverlap": false, "labelFlush": false
          }
        },
        "y": {
          "field": "q", "type": "quantitative",
          "scale": {"domain": [0, 250], "nice": false, "zero": true},
          "axis": {
            "orient": "left",
            "title": "débit m³/s",
            "titleFontSize": 13, "titleFontWeight": "bold", "titlePadding": 12, "titleY": 341,
            "values": [0, 50, 100, 150, 200, 250],
            "grid": true, "gridColor": "#8c8c8c", "gridWidth": 1.5,
            "tickSize": 6, "tickColor": "#8c8c8c",
            "domainColor": "#8c8c8c", "domainWidth": 2,
            "labelFontSize": 14, "labelPadding": 15, "labelOverlap": false, "labelFlush": false
          }
        },
        "color": {
          "field": "s", "type": "nominal",
          "scale": {
            "domain": ["Hauteroche","Brain","Darcey","Brianny","Quincy-le-Vicomte","Montbard","Aisy-sur-Armançon","Tronchoy","Chessy-les-Près","Brienon"],
            "range": ["#ff0000","#e46c0a","#ffc000","#ffff00","#92d050","#00b050","#00b0f0","#0070c0","#2424f0","#002060"]
          },
          "legend": {
            "title": null, "orient": "bottom", "direction": "horizontal", "columns": 10,
            "symbolType": "stroke", "symbolSize": 1225, "symbolStrokeWidth": 2,
            "labelFontSize": 13.5, "labelColor": "#222222", "labelOffset": 4, "columnPadding": 7,
            "offset": 9, "labelLimit": 300
          }
        },
        "strokeWidth": {
          "field": "s", "type": "nominal",
          "scale": {
            "domain": ["Hauteroche","Brain","Darcey","Brianny","Quincy-le-Vicomte","Montbard","Aisy-sur-Armançon","Tronchoy","Chessy-les-Près","Brienon"],
            "range": [3, 2.5, 4.5, 2.5, 2.5, 2.5, 2.5, 2.5, 4.5, 2.5]
          },
          "legend": null
        }
      }
    },
    {
      "data": {"values": [{"x1": "2010-12-01 02:00", "x2": "2010-12-24 22:00", "y1": 229.4, "y2": 251.9}]},
      "mark": {"type": "rect", "fill": "#ffffff", "stroke": "#4f81bd", "strokeWidth": 6},
      "encoding": {
        "x": {"field": "x1", "type": "temporal"},
        "x2": {"field": "x2"},
        "y": {
          "field": "y1", "type": "quantitative",
          "axis": {
            "orient": "left", "title": null,
            "values": [10,20,30,40,60,70,80,90,110,120,130,140,160,170,180,190,210,220,230,240],
            "grid": true, "gridColor": "#d0d0d0", "gridWidth": 1.5,
            "labels": false, "ticks": true, "tickSize": 6, "tickColor": "#8c8c8c",
            "domain": false
          }
        },
        "y2": {"field": "y2"}
      }
    },
    {
      "data": {"values": [
        {"w": "Hydrogrammes", "t": "2010-12-04 07:00", "q": 237},
        {"w": "des", "t": "2010-12-09 02:00", "q": 237},
        {"w": "10", "t": "2010-12-10 15:00", "q": 237},
        {"w": "stations", "t": "2010-12-12 22:00", "q": 237},
        {"w": "hydrométriques", "t": "2010-12-17 14:00", "q": 237},
        {"w": "du", "t": "2010-12-21 06:00", "q": 237},
        {"w": "bassin", "t": "2010-12-23 07:00", "q": 237}
      ]},
      "mark": {"type": "text", "font": "Lato", "fontWeight": "bold", "fontSize": 29, "align": "center", "baseline": "alphabetic", "color": "#000000"},
      "encoding": {
        "x": {"field": "t", "type": "temporal"},
        "y": {"field": "q", "type": "quantitative", "axis": null},
        "text": {"field": "w"}
      }
    },
    {
      "data": {"values": [{"w": "(3)", "t": "2010-12-07 16:00", "q": 241.5}]},
      "mark": {"type": "text", "font": "Lato", "fontWeight": "bold", "fontSize": 16, "align": "center", "baseline": "alphabetic", "color": "#000000"},
      "encoding": {
        "x": {"field": "t", "type": "temporal"},
        "y": {"field": "q", "type": "quantitative", "axis": null},
        "text": {"field": "w"}
      }
    }
  ]
}
